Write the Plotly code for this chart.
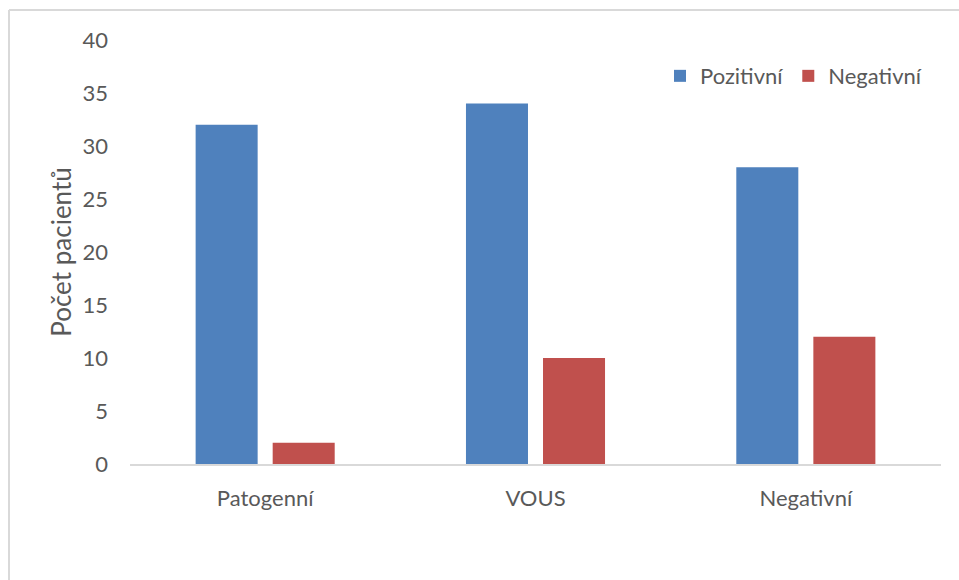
import plotly.graph_objects as go

# Data
categories = ["Patogenní", "VOUS", "Negativní"]
pozitivni = [32, 34, 28]
negativni = [2, 10, 12]
series_names = ["Pozitivní", "Negativní"]
y_title = "Počet pacientů"

W, H = 959, 580
ML, MR, MT, MB = 130, 18, 40, 116
PW, PH = W - ML - MR, H - MT - MB

font_family = "Lato, 'Open Sans', sans-serif"
text_color = "#595959"

fig = go.Figure()
fig.add_trace(go.Bar(x=categories, y=pozitivni, name=series_names[0],
                     marker=dict(color="#4f81bd", line=dict(width=0))))
fig.add_trace(go.Bar(x=categories, y=negativni, name=series_names[1],
                     marker=dict(color="#c0504d", line=dict(width=0))))

# Outer frame of the chart area (partly clipped at right/bottom)
def px_to_paper_x(px):
    return (px - ML) / PW

def px_to_paper_y(py):
    return (H - MB - py) / PH

fig.add_shape(type="line", xref="paper", yref="paper",
              x0=px_to_paper_x(9), x1=px_to_paper_x(W + 5),
              y0=px_to_paper_y(10), y1=px_to_paper_y(10),
              line=dict(color="#d9d9d9", width=2))
fig.add_shape(type="line", xref="paper", yref="paper",
              x0=px_to_paper_x(9), x1=px_to_paper_x(9),
              y0=px_to_paper_y(10), y1=px_to_paper_y(H + 5),
              line=dict(color="#d9d9d9", width=2))

fig.update_layout(
    width=W, height=H,
    margin=dict(l=ML, r=MR, t=MT, b=MB, pad=0),
    paper_bgcolor="white", plot_bgcolor="white",
    barmode="group", bargap=0.43, bargroupgap=0.195,
    font=dict(family=font_family, size=22, color=text_color),
    showlegend=True,
    legend=dict(orientation="h", x=px_to_paper_x(660), y=0.915,
                xanchor="left", yanchor="middle",
                font=dict(size=22, color=text_color), itemwidth=30,
                bgcolor="rgba(0,0,0,0)", traceorder="normal"),
    xaxis=dict(showgrid=False, showline=True, linecolor="#d9d9d9", linewidth=2,
               ticks="", ticklabelstandoff=14, zeroline=False,
               tickfont=dict(size=22, color=text_color)),
    yaxis=dict(range=[0, 40], dtick=5, showgrid=False, showline=False,
               zeroline=False, ticks="", ticklabelstandoff=21,
               tickfont=dict(size=22, color=text_color),
               title=dict(text=y_title, standoff=3,
                          font=dict(size=26, color=text_color))),
)

fig.write_html("out.html")
